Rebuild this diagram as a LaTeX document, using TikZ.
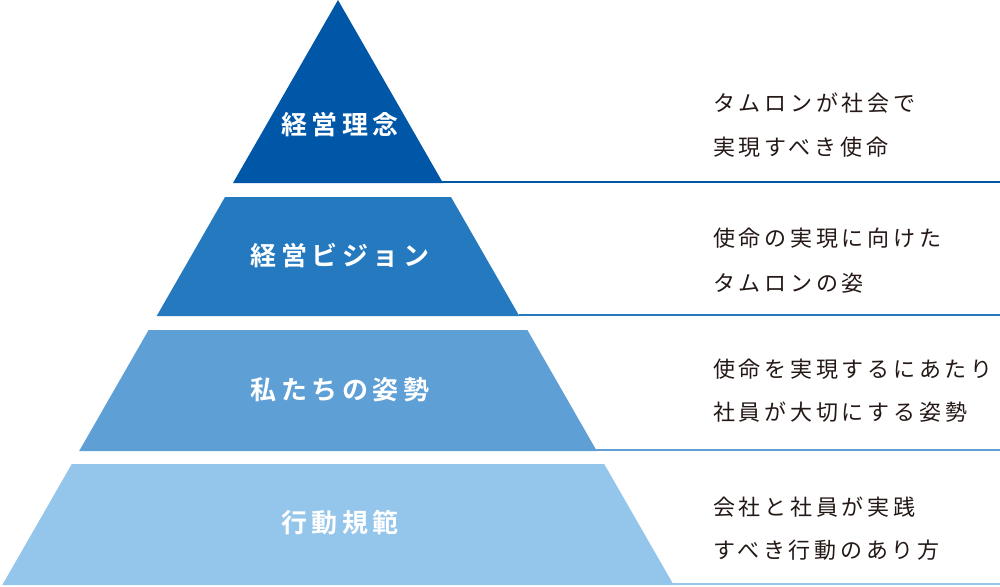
\documentclass[tikz,border=0pt]{standalone}
\usepackage{fontspec}
\newfontfamily\descfam{Noto Sans CJK JP}[LetterSpace=17]
\newfontfamily\labelfam{Noto Sans CJK JP Bold}[LetterSpace=17]
\definecolor{cA}{HTML}{0056A7}
\definecolor{cB}{HTML}{2479BF}
\definecolor{cC}{HTML}{5E9FD6}
\definecolor{cD}{HTML}{94C5EB}
\definecolor{txt}{HTML}{231815}
\tikzset{
  layer/.style={fill=#1, draw=none},
  rule/.style={draw=#1, line width=1.6pt},
  lbl/.style={text=white, inner sep=0pt, font=\labelfam\fontsize{26}{30}\selectfont},
  desc/.style={text=txt, inner sep=0pt, anchor=west, font=\descfam\fontsize{22}{30}\selectfont}
}
\begin{document}
\begin{tikzpicture}[x=1pt,y=-1pt]
\useasboundingbox (0,0) rectangle (1000,586);
% layers
\fill[layer=cA] (338,0) -- (443,183) -- (233,183) -- cycle;
\fill[layer=cB] (225,197) -- (451,197) -- (519.3,316) -- (156.7,316) -- cycle;
\fill[layer=cC] (148.6,330) -- (527.4,330) -- (596.8,451) -- (79.2,451) -- cycle;
\fill[layer=cD] (71.8,464) -- (604.2,464) -- (673.7,585) -- (2.3,585) -- cycle;
% rule lines
\coordinate (b1) at (442,182.2); \coordinate (e1) at (1000,182.2);
\coordinate (b2) at (518.5,315.2); \coordinate (e2) at (1000,315.2);
\coordinate (b3) at (596,450.2); \coordinate (e3) at (1000,450.2);
\coordinate (b4) at (673,584.2); \coordinate (e4) at (1000,584.2);
\draw[rule=cA] (b1) -- (e1);
\draw[rule=cB] (b2) -- (e2);
\draw[rule=cC] (b3) -- (e3);
\draw[rule=cD] (b4) -- (e4);
% labels
\node[lbl] (l1) at (340,125) {経営理念};
\node[lbl] (l2) at (340,256) {経営ビジョン};
\node[lbl] (l3) at (340,390) {私たちの姿勢};
\node[lbl] (l4) at (340,523) {行動規範};
% descriptions
\node[desc] (d1a) at (713,103) {タムロンが社会で};
\node[desc] (d1b) at (713,147) {実現すべき使命};
\node[desc] (d2a) at (713,238) {使命の実現に向けた};
\node[desc] (d2b) at (713,283) {タムロンの姿};
\node[desc] (d3a) at (713,369) {使命を実現するにあたり};
\node[desc] (d3b) at (713,412) {社員が大切にする姿勢};
\node[desc] (d4a) at (713,507) {会社と社員が実践};
\node[desc] (d4b) at (713,550) {すべき行動のあり方};
\end{tikzpicture}
\end{document}
